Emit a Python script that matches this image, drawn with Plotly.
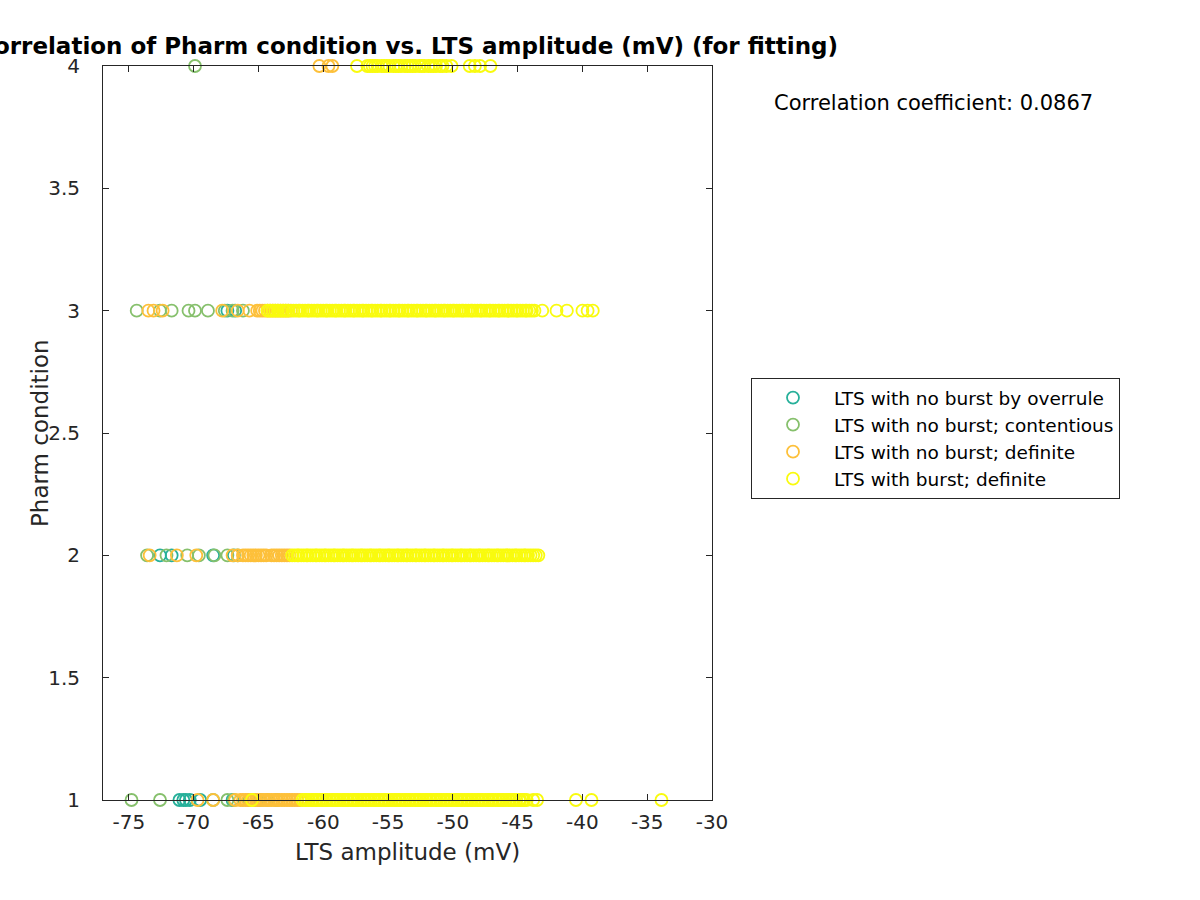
import plotly.graph_objects as go

# ---- data (LTS amplitude in mV) per pharm condition row ----
pharm_levels = [1, 2, 3, 4]

overrule_x = {
    1: [-71.1, -70.8, -70.6, -70.3, -69.5, -67.0, -64.9, -63.6],
    2: [-72.6, -71.7, -68.5, -66.9],
    3: [-67.4, -66.8],
    4: [],
}
contentious_x = {
    1: [-74.8, -72.6, -68.5, -67.4, -66.9, -65.7, -64.3],
    2: [-73.6, -72.1, -70.5, -69.6, -68.4, -67.4, -66.6],
    3: [-74.4, -72.6, -71.7, -70.4, -69.9, -68.9, -67.6, -67.0, -66.2],
    4: [-69.9],
}
nob_definite_x = {
    1: [-69.7, -68.5, -66.8, -66.4, -66.2, -66.0, -65.8, -65.6, -65.4, -65.2,
        -65.0, -64.8, -64.6, -64.4, -64.2, -64.0, -63.8, -63.6, -63.4, -63.2,
        -63.0, -62.8, -62.6, -62.4, -62.2, -62.0, -61.8],
    2: [-73.4, -71.3, -69.8, -67.0, -66.6, -66.2, -66.0, -65.8, -65.6, -65.4,
        -65.2, -65.0, -64.8, -64.6, -64.4, -64.0, -63.8, -63.6, -63.4, -63.2,
        -63.0, -62.8, -62.6],
    3: [-73.5, -73.1, -72.4, -67.8, -66.6, -65.7, -65.1, -64.9, -64.7, -64.5,
        -64.3, -64.1, -63.9, -63.7, -63.5, -63.3, -63.1, -62.9, -62.7, -62.5],
    4: [-60.3, -59.6, -59.3],
}
burst_definite_x = {
    1: [-65.5,
        -61.6, -61.4, -61.3, -61.1, -60.9, -60.8, -60.6, -60.5, -60.3, -60.1,
        -60.0, -59.8, -59.7, -59.5, -59.3, -59.2, -59.0, -58.9, -58.7, -58.5,
        -58.4, -58.2, -58.1, -57.9, -57.7, -57.6, -57.4, -57.3, -57.1, -56.9,
        -56.8, -56.6, -56.5, -56.3, -56.1, -56.0, -55.8, -55.7, -55.5, -55.3,
        -55.2, -55.0, -54.9, -54.7, -54.5, -54.4, -54.2, -54.1, -53.9, -53.7,
        -53.6, -53.4, -53.3, -53.1, -52.9, -52.8, -52.6, -52.5, -52.3, -52.1,
        -52.0, -51.8, -51.7, -51.5, -51.3, -51.2, -51.0, -50.9, -50.7, -50.5,
        -50.4, -50.2, -50.1, -49.9, -49.7, -49.6, -49.4, -49.3, -49.1, -48.9,
        -48.8, -48.6, -48.5, -48.3, -48.1, -48.0, -47.8, -47.7, -47.5, -47.3,
        -47.2, -47.0, -46.9, -46.7, -46.5, -46.4, -46.2, -46.1, -45.9, -45.7,
        -45.6, -45.4, -45.3, -45.1, -44.9, -44.8, -44.6, -44.5, -44.3,
        -43.8, -43.5, -40.5, -39.3, -33.9],
    2: [-62.4, -62.2, -62.0, -61.9, -61.7, -61.5, -61.3, -61.2, -61.0, -60.8,
        -60.6, -60.5, -60.3, -60.1, -59.9, -59.8, -59.6, -59.4, -59.2, -59.1,
        -58.9, -58.7, -58.5, -58.4, -58.2, -58.0, -57.8, -57.7, -57.5, -57.3,
        -57.1, -57.0, -56.8, -56.6, -56.4, -56.3, -56.1, -55.9, -55.7, -55.6,
        -55.4, -55.2, -55.0, -54.9, -54.7, -54.5, -54.3, -54.2, -54.0, -53.8,
        -53.6, -53.5, -53.3, -53.1, -52.9, -52.8, -52.6, -52.4, -52.2, -52.1,
        -51.9, -51.7, -51.5, -51.4, -51.2, -51.0, -50.8, -50.7, -50.5, -50.3,
        -50.1, -50.0, -49.8, -49.6, -49.4, -49.3, -49.1, -48.9, -48.7, -48.6,
        -48.4, -48.2, -48.0, -47.9, -47.7, -47.5, -47.3, -47.2, -47.0, -46.8,
        -46.6, -46.5, -46.3, -46.1, -45.9, -45.8, -45.6, -45.4, -45.2, -45.1,
        -44.9, -44.7, -44.5, -44.4, -44.2, -44.0, -43.8, -43.6, -43.4],
    3: [-64.3, -64.1, -63.9, -63.7, -63.5, -63.3, -63.1, -62.9, -62.7,
        -62.3, -62.1, -61.9, -61.8, -61.6, -61.4, -61.2, -61.1, -60.9, -60.7,
        -60.5, -60.4, -60.2, -60.0, -59.8, -59.7, -59.5, -59.3, -59.1, -59.0,
        -58.8, -58.6, -58.4, -58.3, -58.1, -57.9, -57.7, -57.6, -57.4, -57.2,
        -57.0, -56.9, -56.7, -56.5, -56.3, -56.2, -56.0, -55.8, -55.6, -55.5,
        -55.3, -55.1, -54.9, -54.8, -54.6, -54.4, -54.2, -54.1, -53.9, -53.7,
        -53.5, -53.4, -53.2, -53.0, -52.8, -52.7, -52.5, -52.3, -52.1, -52.0,
        -51.8, -51.6, -51.4, -51.3, -51.1, -50.9, -50.7, -50.6, -50.4, -50.2,
        -50.0, -49.9, -49.7, -49.5, -49.3, -49.2, -49.0, -48.8, -48.6, -48.5,
        -48.3, -48.1, -47.9, -47.8, -47.6, -47.4, -47.2, -47.1, -46.9, -46.7,
        -46.5, -46.4, -46.2, -46.0, -45.8, -45.7, -45.5, -45.3, -45.1, -45.0,
        -44.8, -44.6, -44.4, -44.3, -44.1, -43.9, -43.7,
        -43.1, -42.0, -41.2, -40.0, -39.6, -39.2],
    4: [-57.4, -56.6, -56.4, -56.2, -56.0, -55.8, -55.5, -55.3, -55.1, -54.9,
        -54.6, -54.4, -54.2, -54.0, -53.7, -53.5, -53.3, -53.1, -52.9, -52.6,
        -52.4, -52.2, -51.9, -51.7, -51.5, -51.3, -51.0, -50.8, -50.5, -50.1,
        -48.7, -48.3, -47.9, -47.1],
}

series_names = [
    "LTS with no burst by overrule",
    "LTS with no burst; contentious",
    "LTS with no burst; definite",
    "LTS with burst; definite",
]
series_data = [overrule_x, contentious_x, nob_definite_x, burst_definite_x]
series_colors = ["#27B09A", "#86C06C", "#FDC03A", "#F9FB0E"]

x_ticks = [-75, -70, -65, -60, -55, -50, -45, -40, -35, -30]
y_ticks = [1, 1.5, 2, 2.5, 3, 3.5, 4]
corr_text = "Correlation coefficient: 0.0867"
y_title = "Pharm condition"

FONT = "DejaVu Sans"
fig = go.Figure()
for name, data, color in zip(series_names, series_data, series_colors):
    xs, ys = [], []
    for lvl in pharm_levels:
        xs += data[lvl]
        ys += [lvl] * len(data[lvl])
    fig.add_trace(go.Scatter(
        x=xs, y=ys, mode="markers", name=name, cliponaxis=False,
        marker=dict(symbol="circle-open", size=12, color=color,
                    line=dict(width=1.8, color=color)),
    ))

axis_common = dict(
    showline=True, linecolor="#262626", linewidth=1, mirror="ticks",
    ticks="inside", ticklen=6, tickcolor="#262626", showgrid=False,
    zeroline=False, tickfont=dict(family=FONT, size=20, color="#262626"),
)
fig.update_layout(
    width=1200, height=900,
    paper_bgcolor="white", plot_bgcolor="white",
    margin=dict(l=103, r=488, t=66, b=100),
    title=dict(text="<b>Correlation of Pharm condition vs. LTS amplitude (mV) (for fitting)</b>",
               x=(103 + 712) / 2 / 1200, xanchor="center", y=1 - 46 / 900, yanchor="middle",
               font=dict(family=FONT, size=23, color="black")),
    xaxis=dict(range=[-77, -30], tickvals=x_ticks, ticktext=[str(v) for v in x_ticks],
               ticklabelstandoff=4,
               title=dict(text="LTS amplitude (mV)", font=dict(family=FONT, size=23, color="#262626"),
                          standoff=10),
               **axis_common),
    yaxis=dict(range=[1, 4], tickvals=y_ticks, ticktext=[("%g" % v) for v in y_ticks],
               ticklabelstandoff=18,
               **axis_common),
    legend=dict(x=(751 - 103) / 609, y=(800 - 378) / 734, xanchor="left", yanchor="top",
                bordercolor="#262626", borderwidth=1, bgcolor="white",
                font=dict(family=FONT, size=18.5, color="black"), itemwidth=72,
                tracegroupgap=0),
    showlegend=True,
)
fig.add_annotation(text=y_title, xref="paper", yref="paper",
                   x=(40 - 103) / 609, y=0.5, xanchor="center", yanchor="middle",
                   textangle=-90, showarrow=False,
                   font=dict(family=FONT, size=23, color="#262626"))
fig.add_annotation(text=corr_text, xref="paper", yref="paper",
                   x=(772 - 103) / 609, y=(800 - 103) / 734, xanchor="left", yanchor="middle",
                   showarrow=False, font=dict(family=FONT, size=21, color="black"))

fig.write_html("out.html")
